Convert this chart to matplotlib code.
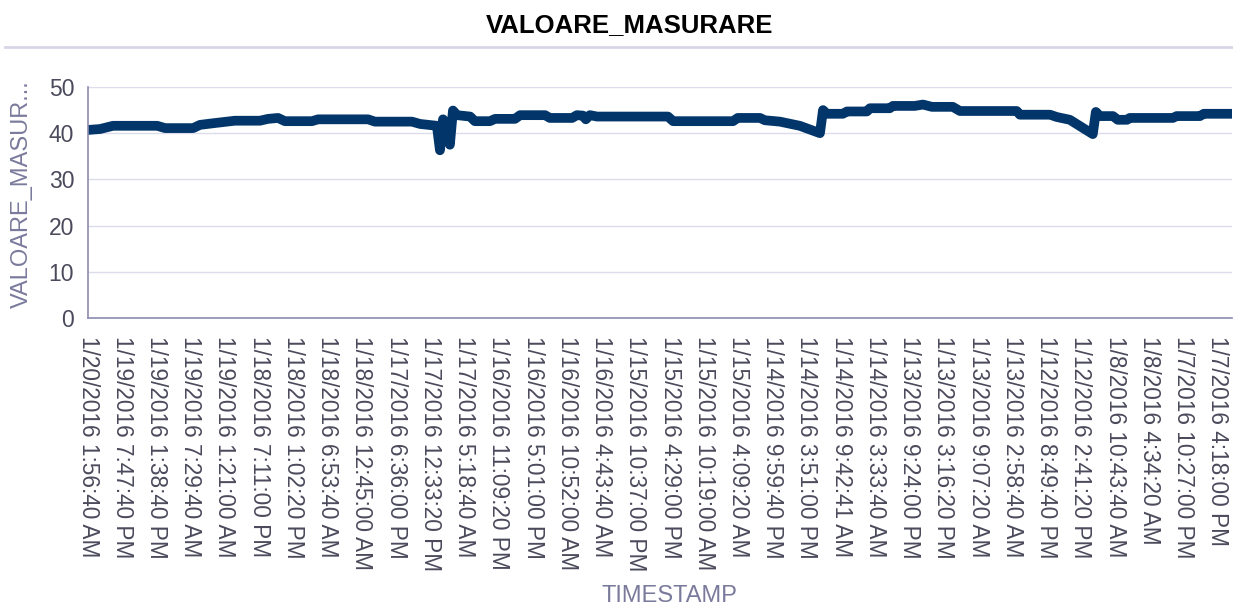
import matplotlib.pyplot as plt
from matplotlib.lines import Line2D

plt.rcParams["font.family"] = ["Liberation Sans", "DejaVu Sans"]

# tick labels along the categorical time axis
tick_labels = [
    "1/20/2016 1:56:40 AM", "1/19/2016 7:47:40 PM", "1/19/2016 1:38:40 PM",
    "1/19/2016 7:29:40 AM", "1/19/2016 1:21:00 AM", "1/18/2016 7:11:00 PM",
    "1/18/2016 1:02:20 PM", "1/18/2016 6:53:40 AM", "1/18/2016 12:45:00 AM",
    "1/17/2016 6:36:00 PM", "1/17/2016 12:33:20 PM", "1/17/2016 5:18:40 AM",
    "1/16/2016 11:09:20 PM", "1/16/2016 5:01:00 PM", "1/16/2016 10:52:00 AM",
    "1/16/2016 4:43:40 AM", "1/15/2016 10:37:00 PM", "1/15/2016 4:29:00 PM",
    "1/15/2016 10:19:00 AM", "1/15/2016 4:09:20 AM", "1/14/2016 9:59:40 PM",
    "1/14/2016 3:51:00 PM", "1/14/2016 9:42:41 AM", "1/14/2016 3:33:40 AM",
    "1/13/2016 9:24:00 PM", "1/13/2016 3:16:20 PM", "1/13/2016 9:07:20 AM",
    "1/13/2016 2:58:40 AM", "1/12/2016 8:49:40 PM", "1/12/2016 2:41:20 PM",
    "1/8/2016 10:43:40 AM", "1/8/2016 4:34:20 AM", "1/7/2016 10:27:00 PM",
    "1/7/2016 4:18:00 PM",
]

# measurement series (position in tick units, value)
pos = [
    0.0, 0.35, 0.73, 2.02, 2.25, 3.07, 3.27, 3.71, 4.29, 5.02, 5.26, 5.55,
    5.75, 6.54, 6.72, 8.18, 8.38, 9.46, 9.70, 10.19, 10.28, 10.37, 10.48,
    10.57, 10.66, 10.78, 11.16, 11.30, 11.74, 11.89, 12.47, 12.62, 13.35,
    13.49, 14.14, 14.28, 14.46, 14.54, 14.66, 14.87, 16.94, 17.09, 18.84,
    18.98, 19.63, 19.77, 20.21, 20.79, 21.38, 21.47, 21.58, 22.05, 22.17,
    22.75, 22.84, 23.42, 23.51, 24.15, 24.39, 24.65, 25.26, 25.47, 27.13,
    27.22, 28.10, 28.30, 28.68, 29.35, 29.44, 29.56, 29.94, 30.08, 30.35,
    30.43, 31.69, 31.80, 32.48, 32.59, 33.41,
]
valoare = [
    40.7, 40.9, 41.6, 41.6, 41.1, 41.1, 41.8, 42.2, 42.7, 42.7, 43.1, 43.3,
    42.6, 42.6, 43.0, 43.0, 42.5, 42.5, 42.0, 41.6, 36.3, 43.0, 42.0,
    37.5, 44.9, 43.9, 43.6, 42.6, 42.6, 43.1, 43.1, 43.9, 43.9,
    43.3, 43.3, 43.9, 43.8, 43.0, 43.9, 43.6, 43.6, 42.6, 42.6,
    43.3, 43.3, 42.8, 42.5, 41.6, 40.0, 45.0, 44.2, 44.2, 44.7,
    44.7, 45.4, 45.4, 45.9, 45.9, 46.2, 45.7, 45.7, 44.8, 44.8,
    44.0, 44.0, 43.5, 42.9, 39.8, 44.6, 43.7, 43.7, 42.9, 42.9,
    43.3, 43.3, 43.7, 43.7, 44.2, 44.2,
]

label_col = "#7a7a9c"
tick_col = "#4a4a5c"

fig = plt.figure(figsize=(12.33, 6.07), dpi=100)
ax = fig.add_axes([0.0714, 0.4761, 0.9276, 0.3806])

ax.plot(pos, valoare, color="#02366b", linewidth=7, solid_capstyle="round",
        solid_joinstyle="round")

ax.set_xlim(0, 33.41)
ax.set_ylim(0, 50)
ax.set_yticks([0, 10, 20, 30, 40, 50])
ax.set_xticks(range(len(tick_labels)))
ax.set_xticklabels(tick_labels, rotation=270, fontsize=16.3, color=tick_col,
                   va="top", ha="center")
ax.tick_params(axis="y", labelsize=16.5, labelcolor=tick_col, length=0, pad=10)
ax.tick_params(axis="x", length=0, pad=13)

ax.grid(axis="y", color="#dcdcea", linewidth=1)
ax.set_axisbelow(True)
for s in ["top", "right"]:
    ax.spines[s].set_visible(False)
for s in ["left", "bottom"]:
    ax.spines[s].set_color("#8c8cb0")
    ax.spines[s].set_linewidth(1.2)

fig.text(0.0175, 0.68, "VALOARE_MASUR...", rotation=90, ha="center",
         va="center", fontsize=17, color=label_col)
fig.text(0.543, 0.018, "TIMESTAMP", ha="center", va="center", fontsize=17,
         color=label_col)
fig.text(0.511, 0.958, "VALOARE_MASURARE", ha="center", va="center",
         fontsize=18.5, fontweight="bold", color="black")

fig.add_artist(Line2D([0.004, 1.0], [0.922, 0.922], transform=fig.transFigure,
                      color="#d6d6e6", linewidth=2))

fig.savefig("out.png", dpi=100)
